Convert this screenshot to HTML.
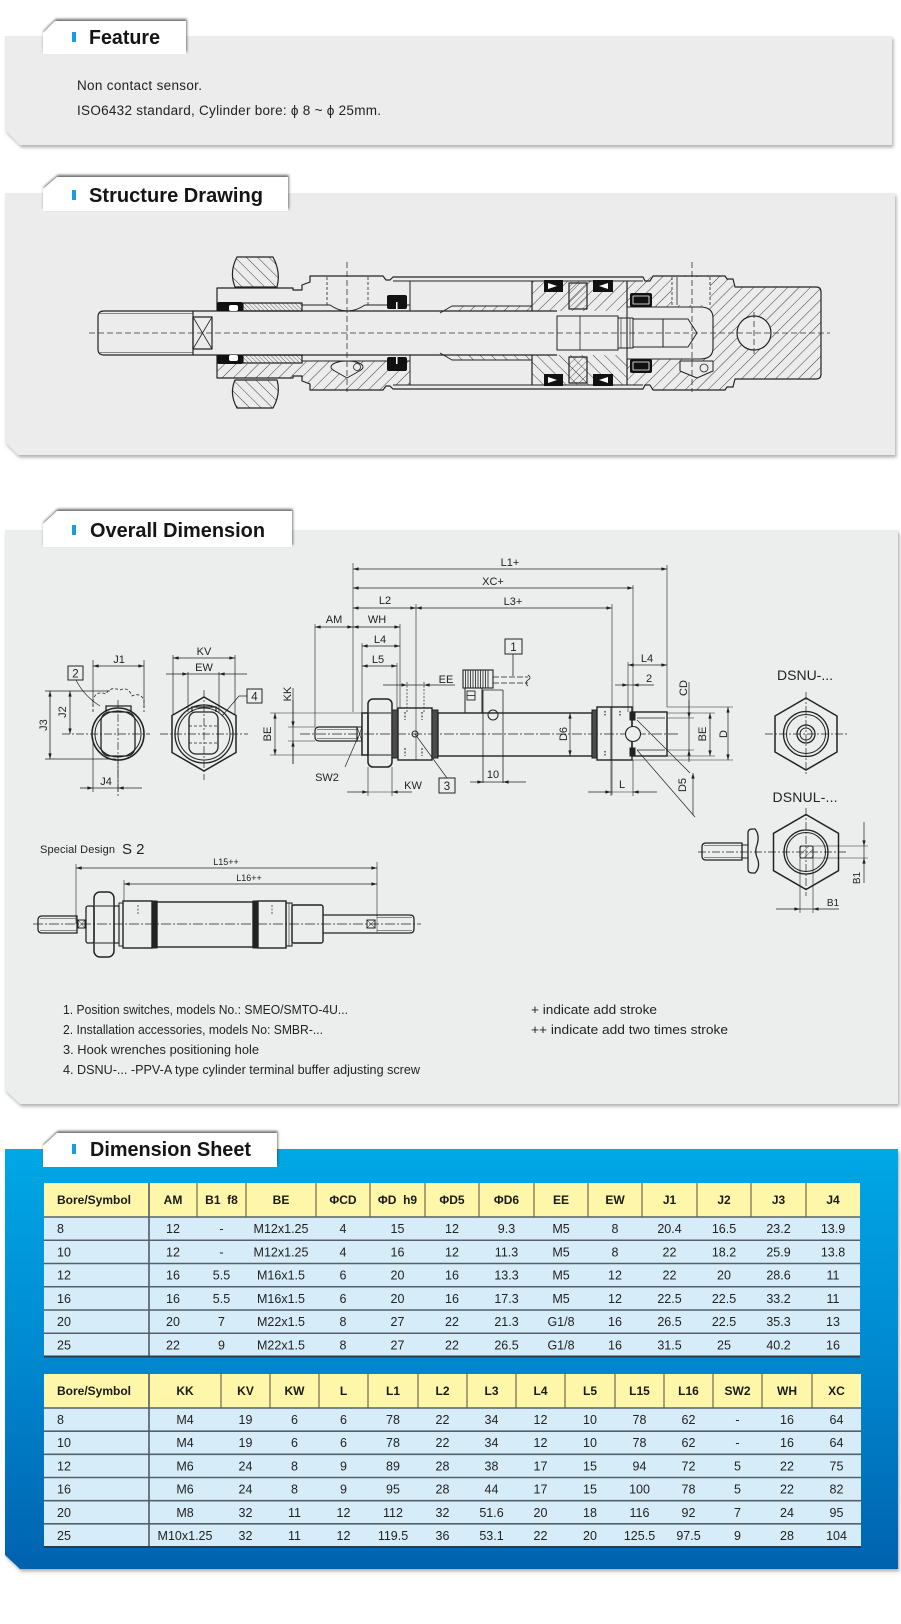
<!DOCTYPE html>
<html><head><meta charset="utf-8">
<style>
html,body{margin:0;padding:0;background:#fff;}
svg{display:block}
</style></head>
<body>
<svg xmlns="http://www.w3.org/2000/svg" width="901" height="1624" viewBox="0 0 901 1624" font-family="'Liberation Sans', Arial, sans-serif">
<defs>
<filter id="ps" x="-3%" y="-10%" width="106%" height="125%">
  <feDropShadow dx="1.5" dy="2.5" stdDeviation="1.6" flood-color="#6f6f6f" flood-opacity="0.55"/>
</filter>
<filter id="ts" x="-10%" y="-50%" width="120%" height="180%">
  <feDropShadow dx="0.8" dy="-2" stdDeviation="1.3" flood-color="#3a3a3a" flood-opacity="0.75"/>
</filter>
<linearGradient id="bg" x1="0" y1="0" x2="0" y2="1">
  <stop offset="0" stop-color="#05a8e6"/>
  <stop offset="0.5" stop-color="#0388cf"/>
  <stop offset="1" stop-color="#0062af"/>
</linearGradient>
<pattern id="ha" width="8" height="8" patternUnits="userSpaceOnUse" patternTransform="rotate(45)">
  <line x1="0" y1="0" x2="0" y2="8" stroke="#2a2a2a" stroke-width="0.9"/>
</pattern>
<pattern id="hb" width="8" height="8" patternUnits="userSpaceOnUse" patternTransform="rotate(-45)">
  <line x1="0" y1="0" x2="0" y2="8" stroke="#2a2a2a" stroke-width="0.9"/>
</pattern>
<pattern id="hf" width="3" height="3" patternUnits="userSpaceOnUse" patternTransform="rotate(-45)">
  <line x1="0" y1="0" x2="0" y2="3" stroke="#2a2a2a" stroke-width="0.7"/>
</pattern>
<pattern id="hm" width="5" height="5" patternUnits="userSpaceOnUse" patternTransform="rotate(45)">
  <line x1="0" y1="0" x2="0" y2="5" stroke="#2a2a2a" stroke-width="0.7"/>
</pattern>
<marker id="ar" viewBox="0 0 10 6" refX="10" refY="3" markerWidth="7" markerHeight="3.4" markerUnits="userSpaceOnUse" orient="auto-start-reverse">
  <path d="M0,0 L10,3 L0,6 Z" fill="#222"/>
</marker>
</defs>

<!-- ================= FEATURE ================= -->
<path d="M5,36 H892 V145 H20 L5,130 Z" fill="#ebeceb" filter="url(#ps)"/>
<path d="M43,33 L55,21 H186 V54 H43 Z" fill="#fff" filter="url(#ts)"/>
<rect x="72" y="32" width="4" height="10" fill="#1a9de0"/>
<text x="89" y="44" font-size="20" font-weight="bold" fill="#151515" textLength="71" lengthAdjust="spacingAndGlyphs">Feature</text>
<text x="77" y="90" font-size="13.5" fill="#222" textLength="125">Non contact sensor.</text>
<text x="77" y="115" font-size="13.5" fill="#222" textLength="304">ISO6432 standard, Cylinder bore: ϕ 8 ~ ϕ 25mm.</text>

<!-- ================= STRUCTURE ================= -->
<path d="M5,193 H895 V455 H18 L5,442 Z" fill="#ebeceb" filter="url(#ps)"/>
<path d="M43,189 L57,177 H288 V211 H43 Z" fill="#fff" filter="url(#ts)"/>
<rect x="72" y="190" width="4" height="10" fill="#1a9de0"/>
<text x="89" y="202" font-size="20" font-weight="bold" fill="#151515" textLength="174" lengthAdjust="spacingAndGlyphs">Structure Drawing</text>

<g id="struct" stroke-linejoin="round">
  <!-- hatched regions -->
  <path d="M237,257 H273 Q281,272 277,287 H235 Q229,272 237,257 Z" fill="url(#hb)" stroke="#222" stroke-width="1.2"/>
  <path d="M235,380 H277 Q281,394 273,408 H237 Q229,394 235,380 Z" fill="url(#hb)" stroke="#222" stroke-width="1.2"/>
  <path d="M217,364 H302 V361 H410 V385 H393 L390,386 H386 L383,390 H310 V384 L302,381 V376 H293 V378 H217 Z" fill="url(#ha)"/>
  <rect x="532" y="281" width="95" height="30" fill="url(#ha)"/>
  <rect x="532" y="355" width="95" height="30" fill="url(#hb)"/>
  <path d="M627,281 H643 L653,276 H725 L735,287 H816 Q821,287 821,292 V374 Q821,379 816,379 H735 L725,390 H653 L643,385 H627 Z" fill="url(#ha)"/>
  <rect x="452" y="306" width="80" height="5" fill="url(#ha)"/>
  <rect x="452" y="355" width="80" height="5" fill="url(#hb)"/>

  <!-- overlays -->
  <path d="M627,307 H700 Q713,307 713,318 V348 Q713,359 700,359 H627 Z" fill="#ebeceb" stroke="#222" stroke-width="1.1"/>
  <rect x="672" y="277" width="38" height="28" fill="#ebeceb"/>
  <path d="M680,361 H713 V371 L697,378 L680,371 Z" fill="#ebeceb" stroke="#222" stroke-width="1"/>
  <circle cx="704" cy="368" r="4" fill="none" stroke="#222" stroke-width="0.8"/>
  <circle cx="754" cy="333" r="17" fill="#ebeceb" stroke="#222" stroke-width="1.2"/>
  <ellipse cx="347" cy="367" rx="16" ry="6" fill="#ebeceb" stroke="#222" stroke-width="1"/>
  <path d="M333,370 L347,378 L361,370" fill="#ebeceb" stroke="#222" stroke-width="1"/>
  <circle cx="357" cy="367" r="3.5" fill="none" stroke="#222" stroke-width="0.8"/>

  <g fill="none" stroke="#222" stroke-width="1.2">
    <path d="M217,311 V288 H293 V290 H302 V285 L310,282 V276 H383 L386,280 H390 L393,277 H643 L645,281 H650 L653,276 H725 L727,279 H733 L735,287 H816 Q821,287 821,292 V374 Q821,379 816,379 H735 L733,387 H727 L725,390 H653 L650,385 H645 L643,389 H393 L390,386 H386 L383,390 H310 V384 L302,381 V376 H293 V378 H217 V355"/>
    <path d="M393,281 H643 M393,385 H643" stroke-width="1"/>
    <path d="M104,311 H193 V355 H104 Q98,355 98,349 V317 Q98,311 104,311 Z"/>
    <path d="M100,313.5 H193 M100,352.5 H193" stroke-width="0.6"/>
    <rect x="193" y="317" width="19" height="32"/>
    <path d="M193,317 L212,349 M212,317 L193,349" stroke-width="0.8"/>
    <path d="M193,311 H557 M193,355 H557"/>
    <path d="M302,305 H330 Q347,317 365,305 H410 M410,281 V311 M302,361 H410 M410,355 V385" stroke-width="1"/>
    <path d="M327,277 V305 M368,277 V305" stroke-width="0.8" stroke-dasharray="3,2"/>
    <rect x="243" y="303" width="59" height="8" fill="url(#hf)"/>
    <rect x="243" y="355" width="59" height="8" fill="url(#hf)"/>
    <path d="M440,313 L452,306 H532 M440,353 L452,360 H532" stroke-width="1"/>
    <path d="M532,281 V311 M532,355 V385 M627,281 V307 M627,359 V385"/>
    <rect x="569" y="283" width="18" height="26" fill="url(#hm)"/>
    <rect x="569" y="357" width="18" height="26" fill="url(#hm)"/>
    <rect x="557" y="316" width="61" height="34" stroke-width="1"/>
    <path d="M580,316 V350" stroke-width="0.8"/>
    <rect x="618" y="318" width="15" height="30" stroke-width="1"/>
    <path d="M621,318 V348 M630,318 V348" stroke-width="0.6"/>
    <path d="M633,319 H688 L697,333 L688,347 H633 M663,319 V347" stroke-width="1"/>
    <path d="M672,277 V305 M710,277 V305" stroke-width="0.8" stroke-dasharray="3,2"/>
    <path d="M677,277 V305" stroke-width="0.8"/>
  </g>
  <g fill="#111">
    <rect x="217" y="302" width="26" height="9" rx="2"/>
    <rect x="217" y="355" width="26" height="9" rx="2"/>
    <rect x="387" y="295" width="20" height="14" rx="2"/>
    <rect x="387" y="357" width="20" height="14" rx="2"/>
    <rect x="544" y="280" width="19" height="12"/>
    <rect x="593" y="280" width="20" height="12"/>
    <rect x="544" y="374" width="19" height="12"/>
    <rect x="593" y="374" width="20" height="12"/>
    <rect x="630" y="293" width="22" height="14" rx="2"/>
    <rect x="630" y="359" width="22" height="14" rx="2"/>
  </g>
  <g fill="#fff" stroke="none">
    <rect x="229" y="305" width="9" height="6" rx="2"/>
    <rect x="229" y="355" width="9" height="6" rx="2"/>
    <rect x="396" y="302" width="1.5" height="7"/>
    <rect x="396" y="357" width="1.5" height="7"/>
    <path d="M548,283 L557,286 L548,289 Z"/>
    <path d="M608,283 L599,286 L608,289 Z"/>
    <path d="M548,377 L557,380 L548,383 Z"/>
    <path d="M608,377 L599,380 L608,383 Z"/>
  </g>
  <g fill="none" stroke="#fff" stroke-width="0.8">
    <rect x="633" y="296" width="16" height="8"/>
    <rect x="633" y="362" width="16" height="8"/>
  </g>
  <g stroke="#333" stroke-width="0.8" fill="none" stroke-dasharray="6,3">
    <path d="M89,333 H830"/>
    <path d="M347,262 V392 M692,262 V392 M754,312 V354"/>
  </g>
</g>

<!-- ================= OVERALL DIMENSION ================= -->
<path d="M5,530 H898 V1104 H20 L5,1090 Z" fill="#eceeed" filter="url(#ps)"/>
<path d="M43,524 L57,511 H292 V547 H43 Z" fill="#fff" filter="url(#ts)"/>
<rect x="72" y="525" width="4" height="10" fill="#1a9de0"/>
<text x="90" y="537" font-size="20" font-weight="bold" fill="#151515" textLength="175" lengthAdjust="spacingAndGlyphs">Overall Dimension</text>

<g fill="none" stroke="#222" stroke-width="1">
  <circle cx="118" cy="734" r="26" stroke-width="1.6"/>
  <circle cx="118" cy="734" r="23"/>
  <rect x="101" y="712" width="34" height="44" rx="9" stroke-width="1.3"/>
  <path d="M106,712 V706 H131 V712" stroke-width="1.3"/>
  <path d="M93,712 V700 Q96,690 106,694 Q110,686 120,690 Q128,686 132,696 Q140,692 144,700 V712" stroke-dasharray="3,2" stroke-width="0.8"/>
  <path d="M62,734 H150 M118,700 V796" stroke-dasharray="8,2,2,2" stroke-width="0.7"/>
  <path d="M93,660 V706 M144,660 V708 M45,691 H110 M45,759 H116 M93,738 V792 M118,760 V792" stroke-width="0.7"/>
  <line x1="93" y1="666" x2="144" y2="666" marker-start="url(#ar)" marker-end="url(#ar)" stroke-width="0.8"/>
  <line x1="70" y1="691" x2="70" y2="734" marker-start="url(#ar)" marker-end="url(#ar)" stroke-width="0.8"/>
  <line x1="50" y1="691" x2="50" y2="759" marker-start="url(#ar)" marker-end="url(#ar)" stroke-width="0.8"/>
  <path d="M93,788 H118" stroke-width="0.8"/>
  <line x1="80" y1="788" x2="93" y2="788" marker-end="url(#ar)" stroke-width="0.8"/>
  <line x1="142" y1="788" x2="118" y2="788" marker-end="url(#ar)" stroke-width="0.8"/>
  <rect x="68" y="666" width="15" height="14" stroke-width="1"/>
  <path d="M76,680 Q84,696 100,706" stroke-width="0.7"/>

  <path d="M204,697 L236,715.5 L236,752.5 L204,771 L172,752.5 L172,715.5 Z" stroke-width="1.5"/>
  <circle cx="204" cy="734" r="29" stroke-width="1.3"/>
  <circle cx="204" cy="734" r="26"/>
  <rect x="189" y="712" width="29" height="42" rx="7" stroke-width="1.3"/>
  <path d="M192,712 V707 H216 V712" stroke-width="1.2"/>
  <path d="M189,726 H218 M189,743 H218" stroke-dasharray="3,2" stroke-width="0.7"/>
  <path d="M160,734 H248 M204,690 V780" stroke-dasharray="8,2,2,2" stroke-width="0.7"/>
  <path d="M173,655 V715 M235,655 V715 M188,672 V712 M219,672 V712" stroke-width="0.7"/>
  <line x1="173" y1="658" x2="235" y2="658" marker-start="url(#ar)" marker-end="url(#ar)" stroke-width="0.8"/>
  <path d="M188,674 H219" stroke-width="0.8"/>
  <line x1="166" y1="674" x2="188" y2="674" marker-end="url(#ar)" stroke-width="0.8"/>
  <line x1="247" y1="674" x2="219" y2="674" marker-end="url(#ar)" stroke-width="0.8"/>
  <rect x="247" y="689" width="15" height="14" stroke-width="1"/>
  <path d="M247,696 H239 L222,716" stroke-width="0.7"/>

  <path d="M300,734 H680" stroke-dasharray="10,2,2,2" stroke-width="0.7"/>
  <path d="M319,727 H357 V741 H319 Q315,741 315,737 V731 Q315,727 319,727 Z" stroke-width="1.2"/>
  <path d="M317,729.5 H357 M317,738.5 H357" stroke-width="0.5"/>
  <rect x="357" y="727" width="5" height="14"/>
  <path d="M357,727 L362,741 M362,727 L357,741" stroke-width="0.6"/>
  <rect x="362" y="713" width="6" height="42" stroke-width="1.5"/>
  <rect x="368" y="699" width="24" height="68" rx="5" stroke-width="1.5"/>
  <path d="M369,713 H391 M369,755 H391"/>
  <rect x="392" y="710" width="6" height="48" fill="#4a4a4a"/>
  <rect x="398" y="708" width="34" height="52" stroke-width="1.4"/>
  <path d="M405,712 V720 M422,712 V720 M405,748 V756 M422,748 V756" stroke-dasharray="2,1.5" stroke-width="1"/>
  <circle cx="415" cy="734" r="3"/>
  <rect x="432" y="710" width="6" height="48" fill="#4a4a4a"/>
  <rect x="438" y="713" width="154" height="43" stroke-width="1.4"/>
  <rect x="592" y="710" width="5" height="48" fill="#4a4a4a"/>
  <rect x="597" y="707" width="35" height="53" stroke-width="1.4"/>
  <path d="M611,707 V760" stroke-width="0.9"/>
  <path d="M605,711 V717 M620,711 V717 M605,751 V757" stroke-dasharray="1.5,1.5" stroke-width="1.2"/>
  <rect x="632" y="712" width="35" height="44" stroke-width="1.4"/>
  <path d="M637,718 H665 M637,750 H665" stroke-width="0.8"/>
  <rect x="630" y="712" width="5" height="8" fill="#222"/>
  <rect x="630" y="748" width="5" height="8" fill="#222"/>
  <circle cx="633" cy="734" r="7.5" fill="#eceeed" stroke-width="1.1"/>

  <rect x="463" y="670" width="30" height="18" stroke-width="1.1"/>
  <path d="M465.5,670 V688 M468,670 V688 M470.5,670 V688 M473,670 V688 M475.5,670 V688 M478,670 V688 M480.5,670 V688 M483,670 V688 M485.5,670 V688 M488,670 V688" stroke-width="0.8"/>
  <path d="M493,677 H528 M493,683 H528" stroke-dasharray="6,2" stroke-width="0.7"/>
  <path d="M528,675 q4,3 0,5 q-4,3 0,6" stroke-width="0.8"/>
  <rect x="465" y="688" width="17" height="25" stroke-width="1"/>
  <rect x="467" y="691" width="8" height="9" stroke-width="0.9"/>
  <path d="M467,695.5 H475" stroke-width="0.8"/>
  <path d="M483,690 V783 M503,690 V783 M483,690 H503" stroke-width="0.8"/>
  <circle cx="493" cy="715" r="5"/>
  <path d="M513,654 V676" stroke-width="0.8"/>
  <rect x="505" y="639" width="17" height="15"/>

  <path d="M353,563 V712 M667,565 V707 M633,585 V712 M612,604 V795 M315,624 V727 M362,643 V713 M400,624 V708 M397,663 V710 M416,604 V760 M628,662 V712" stroke-width="0.6"/>
  <line x1="353" y1="569" x2="667" y2="569" marker-start="url(#ar)" marker-end="url(#ar)" stroke-width="0.7"/>
  <line x1="353" y1="588" x2="633" y2="588" marker-start="url(#ar)" marker-end="url(#ar)" stroke-width="0.7"/>
  <line x1="416" y1="608" x2="612" y2="608" marker-start="url(#ar)" marker-end="url(#ar)" stroke-width="0.7"/>
  <line x1="353" y1="608" x2="416" y2="608" marker-start="url(#ar)" marker-end="url(#ar)" stroke-width="0.7"/>
  <line x1="315" y1="627" x2="353" y2="627" marker-start="url(#ar)" marker-end="url(#ar)" stroke-width="0.7"/>
  <line x1="353" y1="627" x2="400" y2="627" marker-start="url(#ar)" marker-end="url(#ar)" stroke-width="0.7"/>
  <line x1="362" y1="646" x2="400" y2="646" marker-start="url(#ar)" marker-end="url(#ar)" stroke-width="0.7"/>
  <line x1="362" y1="666" x2="397" y2="666" marker-start="url(#ar)" marker-end="url(#ar)" stroke-width="0.7"/>
  <path d="M407,682 V712 M424,682 V712" stroke-dasharray="2,1.5" stroke-width="0.7"/>
  <path d="M407,685 H424" stroke-width="0.7"/>
  <line x1="383" y1="685" x2="407" y2="685" marker-end="url(#ar)" stroke-width="0.7"/>
  <line x1="455" y1="685" x2="424" y2="685" marker-end="url(#ar)" stroke-width="0.7"/>
  <path d="M288,727 H315 M288,741 H315 M270,713 H362 M270,755 H362" stroke-width="0.6"/>
  <path d="M293,688 V764" stroke-width="0.7"/>
  <line x1="293" y1="700" x2="293" y2="727" marker-end="url(#ar)" stroke-width="0.7"/>
  <line x1="293" y1="764" x2="293" y2="741" marker-end="url(#ar)" stroke-width="0.7"/>
  <line x1="275" y1="713" x2="275" y2="755" marker-start="url(#ar)" marker-end="url(#ar)" stroke-width="0.7"/>
  <path d="M345,767 L358,737" stroke-width="0.7"/>
  <path d="M368,767 V796 M392,767 V796 M368,792 H392" stroke-width="0.6"/>
  <line x1="347" y1="792" x2="368" y2="792" marker-end="url(#ar)" stroke-width="0.7"/>
  <line x1="412" y1="792" x2="392" y2="792" marker-end="url(#ar)" stroke-width="0.7"/>
  <rect x="439" y="778" width="16" height="15"/>
  <path d="M415,734 L447,778" stroke-width="0.7"/>
  <path d="M483,782 H503" stroke-width="0.7"/>
  <line x1="470" y1="782" x2="483" y2="782" marker-end="url(#ar)" stroke-width="0.7"/>
  <line x1="526" y1="782" x2="503" y2="782" marker-end="url(#ar)" stroke-width="0.7"/>
  <line x1="570" y1="713" x2="570" y2="756" marker-start="url(#ar)" marker-end="url(#ar)" stroke-width="0.7"/>
  <line x1="628" y1="665" x2="667" y2="665" marker-start="url(#ar)" marker-end="url(#ar)" stroke-width="0.7"/>
  <path d="M628,685 H633" stroke-width="0.7"/>
  <line x1="615" y1="685" x2="628" y2="685" marker-end="url(#ar)" stroke-width="0.7"/>
  <line x1="654" y1="685" x2="633" y2="685" marker-end="url(#ar)" stroke-width="0.7"/>
  <path d="M667,707 H733 M632,760 H733 M667,713 H715 M667,756 H715 M667,718 H694 M667,750 H694" stroke-width="0.6"/>
  <path d="M689,682 V760" stroke-width="0.7"/>
  <line x1="689" y1="700" x2="689" y2="718" marker-end="url(#ar)" stroke-width="0.7"/>
  <line x1="689" y1="762" x2="689" y2="750" marker-end="url(#ar)" stroke-width="0.7"/>
  <line x1="710" y1="713" x2="710" y2="756" marker-start="url(#ar)" marker-end="url(#ar)" stroke-width="0.7"/>
  <line x1="728" y1="707" x2="728" y2="760" marker-start="url(#ar)" marker-end="url(#ar)" stroke-width="0.7"/>
  <path d="M637,720 L690,773 M637,750 L695,817" stroke-width="0.7"/>
  <line x1="693" y1="815" x2="693" y2="773" marker-end="url(#ar)" stroke-width="0.7"/>
  <path d="M611,760 V796 M633,760 V796 M611,792 H633" stroke-width="0.6"/>
  <line x1="588" y1="792" x2="611" y2="792" marker-end="url(#ar)" stroke-width="0.7"/>
  <line x1="657" y1="792" x2="633" y2="792" marker-end="url(#ar)" stroke-width="0.7"/>

  <path d="M806,698 L837,716 L837,752 L806,770 L775,752 L775,716 Z" stroke-width="1.5"/>
  <circle cx="806" cy="734" r="22.5" stroke-width="1.3"/>
  <circle cx="806" cy="734" r="19.5"/>
  <circle cx="806" cy="734" r="9" stroke-width="1.3"/>
  <circle cx="806" cy="734" r="6"/>
  <path d="M765,734 H847 M806,692 V776" stroke-dasharray="8,2,2,2" stroke-width="0.7"/>

  <path d="M706,843 H742 V860 H706 Q702,860 702,856 V847 Q702,843 706,843 Z" stroke-width="1.3"/>
  <path d="M704,845.5 H742 M704,857.5 H742" stroke-width="0.5"/>
  <path d="M742,845 H748 M742,858 H748" stroke-width="1"/>
  <path d="M748,833 Q748,829 752,829 H755 Q760,835 757,845 Q754,852 758,860 Q760,868 755,873 H752 Q748,873 748,869 Z" stroke-width="1.3"/>
  <path d="M698,852 H847" stroke-dasharray="8,2,2,2" stroke-width="0.7"/>
  <path d="M806,814.5 L838.5,833.3 L838.5,870.7 L806,889.5 L773.5,870.7 L773.5,833.3 Z" stroke-width="1.5"/>
  <circle cx="806" cy="852" r="22" stroke-width="1.3"/>
  <circle cx="806" cy="852" r="19.5"/>
  <rect x="800" y="846" width="13" height="12" rx="1.5" fill="url(#hm)" stroke-width="1.1"/>
  <path d="M806,808 V896" stroke-dasharray="8,2,2,2" stroke-width="0.7"/>
  <path d="M800,858 V913 M813,858 V913 M813,846 H868 M813,858 H868" stroke-width="0.6"/>
  <path d="M800,909 H813" stroke-width="0.7"/>
  <line x1="776" y1="909" x2="800" y2="909" marker-end="url(#ar)" stroke-width="0.7"/>
  <line x1="839" y1="909" x2="813" y2="909" marker-end="url(#ar)" stroke-width="0.7"/>
  <path d="M864,846 V858" stroke-width="0.7"/>
  <line x1="864" y1="822" x2="864" y2="846" marker-end="url(#ar)" stroke-width="0.7"/>
  <line x1="864" y1="883" x2="864" y2="858" marker-end="url(#ar)" stroke-width="0.7"/>

  <path d="M33,924 H421" stroke-dasharray="10,2,2,2" stroke-width="0.7"/>
  <path d="M42,916 H77 V933 H42 Q38,933 38,929 V920 Q38,916 42,916 Z" stroke-width="1.3"/>
  <path d="M40,918.5 H77 M40,930.5 H77" stroke-width="0.5"/>
  <rect x="78" y="920" width="7" height="8"/>
  <path d="M78,920 L85,928 M85,920 L78,928" stroke-width="0.5"/>
  <rect x="86" y="906" width="8" height="37" rx="2" stroke-width="1.3"/>
  <rect x="94" y="892" width="20" height="65" rx="6" stroke-width="1.5"/>
  <path d="M95,906 H113 M95,943 H113"/>
  <rect x="114" y="906" width="5" height="37" stroke-width="1.2"/>
  <rect x="119" y="903" width="4" height="43"/>
  <rect x="123" y="901" width="29" height="47" stroke-width="1.4"/>
  <path d="M138,905 V915" stroke-dasharray="2,1.5" stroke-width="0.7"/>
  <rect x="152" y="901" width="5" height="47" fill="#222"/>
  <rect x="157" y="902" width="96" height="45" stroke-width="1.4"/>
  <rect x="253" y="901" width="5" height="47" fill="#222"/>
  <rect x="258" y="901" width="28" height="47" stroke-width="1.4"/>
  <path d="M272,905 V915" stroke-dasharray="2,1.5" stroke-width="0.7"/>
  <rect x="286" y="903" width="6" height="43" stroke-width="1.1"/>
  <path d="M289,903 V946" stroke-width="0.6"/>
  <rect x="292" y="905" width="31" height="38" rx="2" stroke-width="1.4"/>
  <path d="M323,915 H410 Q414,915 414,919 V929 Q414,933 410,933 H323" stroke-width="1.3"/>
  <path d="M377,917.5 H412 M377,930.5 H412 M377,915 V933" stroke-width="0.5"/>
  <rect x="367" y="920" width="8" height="8"/>
  <path d="M367,920 L375,928 M375,920 L367,928" stroke-width="0.5"/>
  <path d="M76,864 V924 M124,880 V901 M377,862 V916" stroke-width="0.6"/>
  <line x1="76" y1="868" x2="377" y2="868" marker-start="url(#ar)" marker-end="url(#ar)" stroke-width="0.7"/>
  <line x1="124" y1="884" x2="377" y2="884" marker-start="url(#ar)" marker-end="url(#ar)" stroke-width="0.7"/>
</g>

<g fill="#222" font-size="11" text-anchor="middle">
  <text x="119" y="663">J1</text>
  <text transform="translate(66,712) rotate(-90)">J2</text>
  <text transform="translate(47,725) rotate(-90)">J3</text>
  <text x="106" y="785">J4</text>
  <text x="75.5" y="677.5" font-size="11.5">2</text>
  <text x="204" y="655">KV</text>
  <text x="204" y="671">EW</text>
  <text x="254.5" y="700.5" font-size="11.5">4</text>
  <text x="510" y="566">L1+</text>
  <text x="493" y="585">XC+</text>
  <text x="513" y="605">L3+</text>
  <text x="385" y="604">L2</text>
  <text x="334" y="623">AM</text>
  <text x="377" y="623">WH</text>
  <text x="380" y="643">L4</text>
  <text x="378" y="663">L5</text>
  <text x="446" y="683">EE</text>
  <text transform="translate(291,694) rotate(-90)">KK</text>
  <text transform="translate(271,734) rotate(-90)">BE</text>
  <text x="327" y="781">SW2</text>
  <text x="413" y="789">KW</text>
  <text x="447" y="790" font-size="11.5">3</text>
  <text x="513.5" y="651" font-size="11.5">1</text>
  <text x="493" y="778">10</text>
  <text transform="translate(567,734) rotate(-90)">D6</text>
  <text x="647" y="662">L4</text>
  <text x="649" y="682">2</text>
  <text transform="translate(687,688) rotate(-90)">CD</text>
  <text transform="translate(706,734) rotate(-90)">BE</text>
  <text transform="translate(727,734) rotate(-90)">D</text>
  <text transform="translate(686,785) rotate(-90)">D5</text>
  <text x="622" y="788">L</text>
  <text x="805" y="680" font-size="14" textLength="56">DSNU-...</text>
  <text x="805" y="802" font-size="14" textLength="65">DSNUL-...</text>
  <text x="833" y="906" font-size="10">B1</text>
  <text transform="translate(860,878) rotate(-90)" font-size="10">B1</text>
  <text x="226" y="865" font-size="9">L15++</text>
  <text x="249" y="881" font-size="9">L16++</text>
</g>
<text x="40" y="853" font-size="11" fill="#222" textLength="75">Special Design</text>
<text x="122" y="854" font-size="15" fill="#222">S 2</text>

<g fill="#222" font-size="13">
  <text x="63" y="1014" textLength="285" lengthAdjust="spacingAndGlyphs">1. Position switches, models No.: SMEO/SMTO-4U...</text>
  <text x="63" y="1034" textLength="260" lengthAdjust="spacingAndGlyphs">2. Installation accessories, models No: SMBR-...</text>
  <text x="63" y="1054" textLength="196" lengthAdjust="spacingAndGlyphs">3. Hook wrenches positioning hole</text>
  <text x="63" y="1074" textLength="357" lengthAdjust="spacingAndGlyphs">4. DSNU-... -PPV-A type cylinder terminal buffer adjusting screw</text>
  <text x="531" y="1014" textLength="126" lengthAdjust="spacingAndGlyphs">+ indicate add stroke</text>
  <text x="531" y="1034" textLength="197" lengthAdjust="spacingAndGlyphs">++ indicate add two times stroke</text>
</g>

<!-- ================= DIMENSION SHEET ================= -->
<path d="M5,1149 H898 V1569 H20 L5,1555 Z" fill="url(#bg)" filter="url(#ps)"/>
<path d="M43,1146 L57,1133 H277 V1167 H43 Z" fill="#fff" filter="url(#ts)"/>
<rect x="72" y="1144" width="4" height="10" fill="#1a9de0"/>
<text x="90" y="1156" font-size="20" font-weight="bold" fill="#151515" textLength="161" lengthAdjust="spacingAndGlyphs">Dimension Sheet</text>

<!-- Table 1 -->
<rect x="44" y="1183" width="816" height="34" fill="#fef6a9"/>
<rect x="44" y="1217" width="816" height="139.5" fill="#d6ecf9"/>
<g stroke="#6e6a4a" stroke-width="1.2">
  <path d="M197,1183 V1217 M246,1183 V1217 M316,1183 V1217 M370,1183 V1217 M425,1183 V1217 M479,1183 V1217 M534,1183 V1217 M588,1183 V1217 M642,1183 V1217 M697,1183 V1217 M751,1183 V1217 M806,1183 V1217"/>
</g>
<path d="M149,1183 V1356.5" stroke="#4a5058" stroke-width="1.5"/>
<g stroke="#56606a" stroke-width="1.6">
  <path d="M44,1217 H860 M44,1240.25 H860 M44,1263.5 H860 M44,1286.75 H860 M44,1310 H860 M44,1333.25 H860"/>
</g>
<path d="M44,1356.5 H860" stroke="#2d3a48" stroke-width="2"/>
<g font-size="12" font-weight="bold" fill="#1a1a1a" text-anchor="middle">
  <text x="57" y="1204" text-anchor="start">Bore/Symbol</text>
  <text x="173" y="1204">AM</text>
  <text x="221.5" y="1204">B1&#160;&#160;f8</text>
  <text x="281" y="1204">BE</text>
  <text x="343" y="1204">ΦCD</text>
  <text x="397.5" y="1204">ΦD&#160;&#160;h9</text>
  <text x="452" y="1204">ΦD5</text>
  <text x="506.5" y="1204">ΦD6</text>
  <text x="561" y="1204">EE</text>
  <text x="615" y="1204">EW</text>
  <text x="669.5" y="1204">J1</text>
  <text x="724" y="1204">J2</text>
  <text x="778.5" y="1204">J3</text>
  <text x="833" y="1204">J4</text>
</g>
<g font-size="12.5" fill="#222" text-anchor="middle">
  <g transform="translate(0,1233)">
    <text x="57" text-anchor="start">8</text><text x="173">12</text><text x="221.5">-</text><text x="281">M12x1.25</text><text x="343">4</text><text x="397.5">15</text><text x="452">12</text><text x="506.5">9.3</text><text x="561">M5</text><text x="615">8</text><text x="669.5">20.4</text><text x="724">16.5</text><text x="778.5">23.2</text><text x="833">13.9</text>
  </g>
  <g transform="translate(0,1256.3)">
    <text x="57" text-anchor="start">10</text><text x="173">12</text><text x="221.5">-</text><text x="281">M12x1.25</text><text x="343">4</text><text x="397.5">16</text><text x="452">12</text><text x="506.5">11.3</text><text x="561">M5</text><text x="615">8</text><text x="669.5">22</text><text x="724">18.2</text><text x="778.5">25.9</text><text x="833">13.8</text>
  </g>
  <g transform="translate(0,1279.6)">
    <text x="57" text-anchor="start">12</text><text x="173">16</text><text x="221.5">5.5</text><text x="281">M16x1.5</text><text x="343">6</text><text x="397.5">20</text><text x="452">16</text><text x="506.5">13.3</text><text x="561">M5</text><text x="615">12</text><text x="669.5">22</text><text x="724">20</text><text x="778.5">28.6</text><text x="833">11</text>
  </g>
  <g transform="translate(0,1302.9)">
    <text x="57" text-anchor="start">16</text><text x="173">16</text><text x="221.5">5.5</text><text x="281">M16x1.5</text><text x="343">6</text><text x="397.5">20</text><text x="452">16</text><text x="506.5">17.3</text><text x="561">M5</text><text x="615">12</text><text x="669.5">22.5</text><text x="724">22.5</text><text x="778.5">33.2</text><text x="833">11</text>
  </g>
  <g transform="translate(0,1326.1)">
    <text x="57" text-anchor="start">20</text><text x="173">20</text><text x="221.5">7</text><text x="281">M22x1.5</text><text x="343">8</text><text x="397.5">27</text><text x="452">22</text><text x="506.5">21.3</text><text x="561">G1/8</text><text x="615">16</text><text x="669.5">26.5</text><text x="724">22.5</text><text x="778.5">35.3</text><text x="833">13</text>
  </g>
  <g transform="translate(0,1349.4)">
    <text x="57" text-anchor="start">25</text><text x="173">22</text><text x="221.5">9</text><text x="281">M22x1.5</text><text x="343">8</text><text x="397.5">27</text><text x="452">22</text><text x="506.5">26.5</text><text x="561">G1/8</text><text x="615">16</text><text x="669.5">31.5</text><text x="724">25</text><text x="778.5">40.2</text><text x="833">16</text>
  </g>
</g>

<!-- Table 2 -->
<rect x="44" y="1374" width="817" height="34" fill="#fef6a9"/>
<rect x="44" y="1408" width="817" height="139" fill="#d6ecf9"/>
<g stroke="#6e6a4a" stroke-width="1.2">
  <path d="M221,1374 V1408 M270,1374 V1408 M319,1374 V1408 M368,1374 V1408 M418,1374 V1408 M467,1374 V1408 M516,1374 V1408 M565,1374 V1408 M615,1374 V1408 M664,1374 V1408 M713,1374 V1408 M762,1374 V1408 M812,1374 V1408"/>
</g>
<path d="M149,1374 V1547" stroke="#4a5058" stroke-width="1.5"/>
<g stroke="#56606a" stroke-width="1.6">
  <path d="M44,1408 H861 M44,1431.2 H861 M44,1454.3 H861 M44,1477.5 H861 M44,1500.7 H861 M44,1523.8 H861"/>
</g>
<path d="M44,1547 H861" stroke="#2d3a48" stroke-width="2"/>
<g font-size="12" font-weight="bold" fill="#1a1a1a" text-anchor="middle">
  <text x="57" y="1395" text-anchor="start">Bore/Symbol</text>
  <text x="185" y="1395">KK</text>
  <text x="245.5" y="1395">KV</text>
  <text x="294.5" y="1395">KW</text>
  <text x="343.5" y="1395">L</text>
  <text x="393" y="1395">L1</text>
  <text x="442.5" y="1395">L2</text>
  <text x="491.5" y="1395">L3</text>
  <text x="540.5" y="1395">L4</text>
  <text x="590" y="1395">L5</text>
  <text x="639.5" y="1395">L15</text>
  <text x="688.5" y="1395">L16</text>
  <text x="737.5" y="1395">SW2</text>
  <text x="787" y="1395">WH</text>
  <text x="836.5" y="1395">XC</text>
</g>
<g font-size="12.5" fill="#222" text-anchor="middle">
  <g transform="translate(0,1424)">
    <text x="57" text-anchor="start">8</text><text x="185">M4</text><text x="245.5">19</text><text x="294.5">6</text><text x="343.5">6</text><text x="393">78</text><text x="442.5">22</text><text x="491.5">34</text><text x="540.5">12</text><text x="590">10</text><text x="639.5">78</text><text x="688.5">62</text><text x="737.5">-</text><text x="787">16</text><text x="836.5">64</text>
  </g>
  <g transform="translate(0,1447.2)">
    <text x="57" text-anchor="start">10</text><text x="185">M4</text><text x="245.5">19</text><text x="294.5">6</text><text x="343.5">6</text><text x="393">78</text><text x="442.5">22</text><text x="491.5">34</text><text x="540.5">12</text><text x="590">10</text><text x="639.5">78</text><text x="688.5">62</text><text x="737.5">-</text><text x="787">16</text><text x="836.5">64</text>
  </g>
  <g transform="translate(0,1470.4)">
    <text x="57" text-anchor="start">12</text><text x="185">M6</text><text x="245.5">24</text><text x="294.5">8</text><text x="343.5">9</text><text x="393">89</text><text x="442.5">28</text><text x="491.5">38</text><text x="540.5">17</text><text x="590">15</text><text x="639.5">94</text><text x="688.5">72</text><text x="737.5">5</text><text x="787">22</text><text x="836.5">75</text>
  </g>
  <g transform="translate(0,1493.6)">
    <text x="57" text-anchor="start">16</text><text x="185">M6</text><text x="245.5">24</text><text x="294.5">8</text><text x="343.5">9</text><text x="393">95</text><text x="442.5">28</text><text x="491.5">44</text><text x="540.5">17</text><text x="590">15</text><text x="639.5">100</text><text x="688.5">78</text><text x="737.5">5</text><text x="787">22</text><text x="836.5">82</text>
  </g>
  <g transform="translate(0,1516.8)">
    <text x="57" text-anchor="start">20</text><text x="185">M8</text><text x="245.5">32</text><text x="294.5">11</text><text x="343.5">12</text><text x="393">112</text><text x="442.5">32</text><text x="491.5">51.6</text><text x="540.5">20</text><text x="590">18</text><text x="639.5">116</text><text x="688.5">92</text><text x="737.5">7</text><text x="787">24</text><text x="836.5">95</text>
  </g>
  <g transform="translate(0,1540)">
    <text x="57" text-anchor="start">25</text><text x="185">M10x1.25</text><text x="245.5">32</text><text x="294.5">11</text><text x="343.5">12</text><text x="393">119.5</text><text x="442.5">36</text><text x="491.5">53.1</text><text x="540.5">22</text><text x="590">20</text><text x="639.5">125.5</text><text x="688.5">97.5</text><text x="737.5">9</text><text x="787">28</text><text x="836.5">104</text>
  </g>
</g>
</svg>
</body></html>
